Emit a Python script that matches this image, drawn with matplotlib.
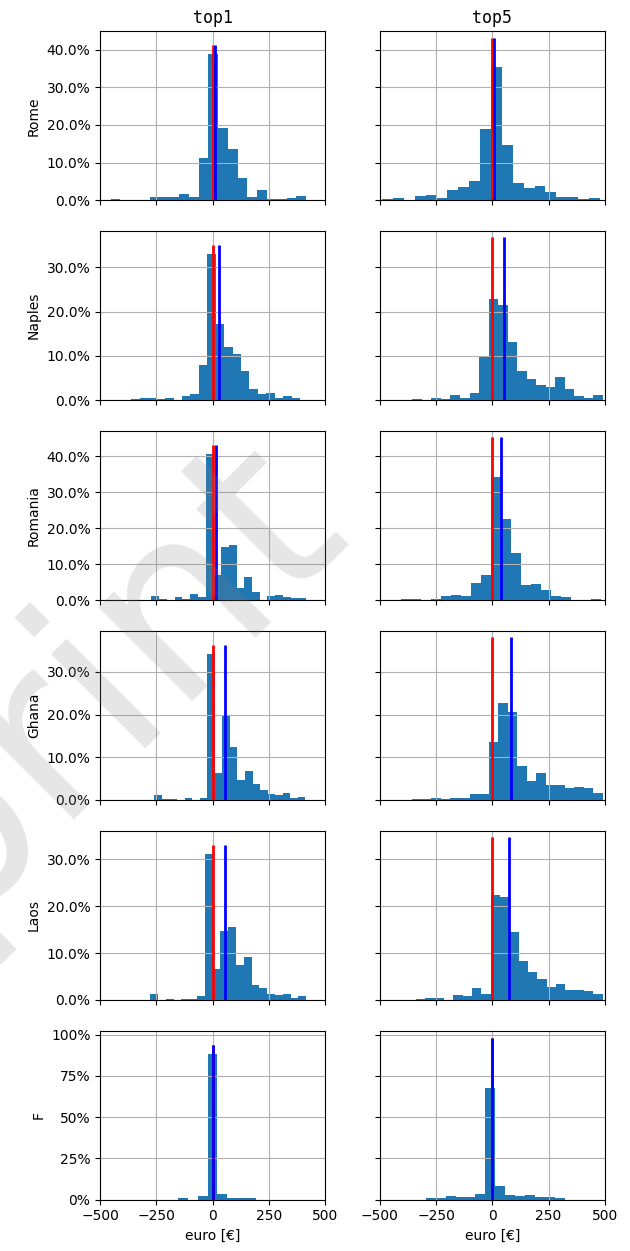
import numpy as np
import matplotlib.pyplot as plt
from matplotlib.ticker import PercentFormatter, MultipleLocator

regions = ['Rome', 'Naples', 'Romania', 'Ghana', 'Laos', 'F']
columns = ['top1', 'top5']

# histogram range (euro) and share of each bin (%)
rome_top1_range = (-454, 416)
rome_top1 = [0.3, 0, 0, 0, 0.8, 0.8, 0.8, 1.6, 0.8, 11.2,
             38.8, 19.1, 13.6, 5.9, 0.8, 2.7, 0.2, 0.2, 0.5, 1.2]
rome_top5_range = (-490, 478)
rome_top5 = [0.2, 0.5, 0, 1.2, 1.4, 0.5, 2.7, 3.5, 5.0, 18.8,
             35.3, 14.6, 4.5, 3.2, 3.8, 2.1, 0.8, 0.8, 0.2, 0.5]

naples_top1_range = (-361, 389)
naples_top1 = [0.2, 0.45, 0.45, 0.2, 0.45, 0.1, 1.0, 1.4, 7.9, 33.0,
               17.2, 12.0, 10.4, 6.6, 2.5, 1.4, 1.6, 0.45, 1.0, 0.45]
naples_top5_range = (-356, 492)
naples_top5 = [0.2, 0, 0.45, 0.2, 1.1, 0.45, 1.6, 9.7, 22.8, 21.5,
               13.1, 6.6, 4.7, 3.4, 2.9, 5.2, 2.5, 0.9, 0.45, 1.1]

romania_top1_range = (-272, 416)
romania_top1 = [1.1, 0.3, 0, 0.8, 0.3, 1.7, 0.8, 40.6, 7.0, 14.7,
                15.3, 3.3, 6.4, 2.2, 0, 1.1, 1.4, 0.8, 0.55, 0.55]
romania_top5_range = (-405, 482)
romania_top5 = [0.3, 0.3, 0, 0.3, 1.2, 1.5, 1.2, 4.7, 7.0, 34.2,
                22.5, 13.1, 4.2, 4.5, 2.8, 1.2, 0.8, 0, 0, 0.3]

ghana_top1_range = (-259, 413)
ghana_top1 = [1.2, 0.25, 0.25, 0, 0.5, 0, 0.5, 34.2, 6.3, 19.7,
              12.4, 4.7, 6.8, 3.75, 2.3, 1.4, 1.2, 1.6, 0.5, 0.7]
ghana_top5_range = (-356, 492)
ghana_top5 = [0.23, 0.23, 0.47, 0.23, 0.47, 0.47, 1.4, 1.4, 13.6, 22.7,
              20.6, 8.0, 4.5, 6.3, 3.5, 3.5, 2.8, 3.0, 2.8, 1.6]

laos_top1_range = (-277, 416)
laos_top1 = [1.3, 0, 0.2, 0, 0.2, 0.2, 0.85, 31.2, 6.6, 14.8,
             15.6, 7.5, 9.2, 3.2, 2.6, 1.3, 1.1, 1.3, 0.4, 0.85]
laos_top5_range = (-339, 491)
laos_top5 = [0.2, 0.43, 0.43, 0, 1.07, 0.86, 2.6, 1.3, 22.5, 22.0,
             14.5, 8.3, 6.0, 4.5, 2.8, 3.4, 2.1, 2.1, 1.9, 1.3]

f_top1_range = (-152, 193)
f_top1 = [0.8, 0, 2.0, 88.5, 3.4, 0.8, 0.8, 0.8]
f_top5_range = (-296, 321)
f_top5 = [0.8, 0.8, 2.0, 1.4, 1.4, 3.4, 67.9, 8.1, 2.6, 2.0, 2.6, 1.4, 1.4, 0.8]

# red = reference (0), blue = mean difference, line heights in %
red_x = [[0, 0], [0, 0], [0, 0], [0, 0], [0, 0], [0, 0]]
blue_x = [[10, 6], [27, 52], [16, 38], [56, 83], [53, 75], [0, 0]]
line_top = [[41.2, 43.2], [35.0, 36.8], [43.1, 45.3],
            [36.3, 38.1], [33.1, 34.8], [94.0, 98.0]]
ylim_top = [44.9, 38.2, 47.0, 39.6, 36.1, 102.4]

hist_data = [[(rome_top1_range, rome_top1), (rome_top5_range, rome_top5)],
             [(naples_top1_range, naples_top1), (naples_top5_range, naples_top5)],
             [(romania_top1_range, romania_top1), (romania_top5_range, romania_top5)],
             [(ghana_top1_range, ghana_top1), (ghana_top5_range, ghana_top5)],
             [(laos_top1_range, laos_top1), (laos_top5_range, laos_top5)],
             [(f_top1_range, f_top1), (f_top5_range, f_top5)]]

fig, axes = plt.subplots(6, 2, figsize=(6.3, 12.51), dpi=100,
                         sharex=True, sharey='row')
fig.subplots_adjust(left=0.159, right=0.960, top=0.975, bottom=0.041,
                    wspace=0.244, hspace=0.183)

for i, region in enumerate(regions):
    for j in range(2):
        ax = axes[i, j]
        (lo, hi), heights = hist_data[i][j]
        edges = np.linspace(lo, hi, len(heights) + 1)
        ax.hist(edges[:-1], bins=edges, weights=np.array(heights) / 100)
        ax.vlines(red_x[i][j], 0, line_top[i][j] / 100, colors='r', lw=2)
        ax.vlines(blue_x[i][j], 0, line_top[i][j] / 100, colors='b', lw=2)
        ax.grid(True)
    axes[i, 0].set_ylim(0, ylim_top[i] / 100)
    axes[i, 0].set_ylabel(region)
    if region == 'F':
        axes[i, 0].yaxis.set_major_locator(MultipleLocator(0.25))
        axes[i, 0].yaxis.set_major_formatter(PercentFormatter(1, decimals=0))
    else:
        axes[i, 0].yaxis.set_major_locator(MultipleLocator(0.1))
        axes[i, 0].yaxis.set_major_formatter(PercentFormatter(1, decimals=1))

axes[0, 0].set_xlim(-500, 500)
axes[0, 0].set_xticks([-500, -250, 0, 250, 500])
for j, col in enumerate(columns):
    axes[0, j].set_title(col, family='monospace')
    axes[-1, j].set_xlabel('euro [€]')

# watermark of the preprint (cut off at the left edge, as in the original)
fig.text(-0.062, 0.349, 'Preprint', rotation=45, fontsize=175, color='gray',
         alpha=0.2, ha='center', va='center', rotation_mode='anchor', zorder=10)

plt.savefig('out.png', dpi=100)
